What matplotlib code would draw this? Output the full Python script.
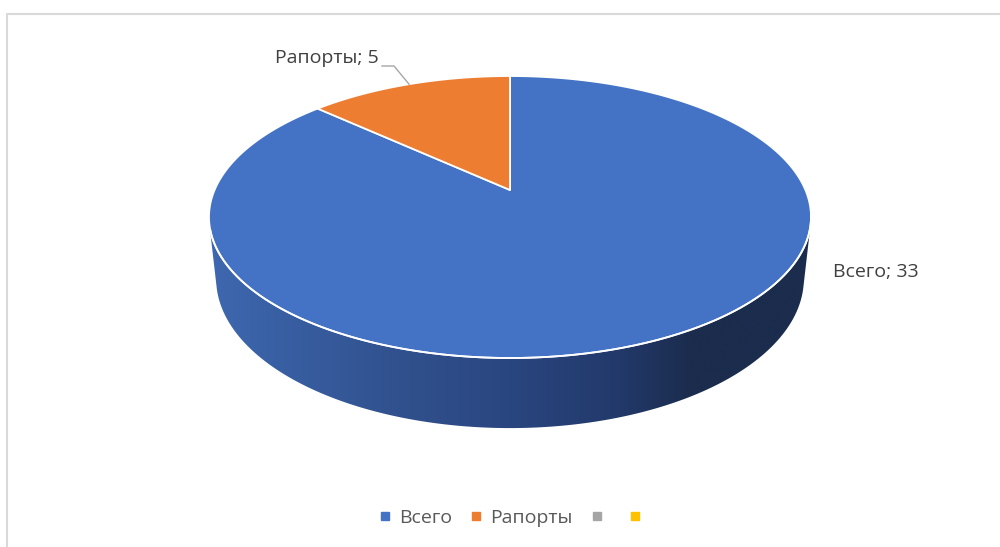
import numpy as np
import matplotlib
matplotlib.use("Agg")
import matplotlib.pyplot as plt
from matplotlib.patches import Polygon
from matplotlib.lines import Line2D
from matplotlib.colors import LinearSegmentedColormap

# Данные
categories = ["Всего", "Рапорты", "", ""]
values = [33, 5, 0, 0]
colors = ["#4472c4", "#ed7d31", "#a5a5a5", "#ffc000"]

plt.rcParams['font.family'] = ['Open Sans', 'DejaVu Sans']

W, H = 1000, 547
fig = plt.figure(figsize=(W / 100, H / 100), dpi=100)
ax = fig.add_axes([0, 0, 1, 1])
ax.set_xlim(0, W)
ax.set_ylim(H, 0)
ax.axis("off")

# рамка области диаграммы
ax.plot([6.5, 6.5, W + 5], [H + 5, 13.5, 13.5], color="#d9d9d9", lw=1.5, zorder=1)

# 3D-круг с перспективой (как в Excel): наклон, расстояние до камеры
cx, cy = 510, 190          # проекция центра
R = 0.2158                 # радиус относительно расстояния до камеры
tilt = np.arcsin(0.4597)
focal = 1369.0
h = 0.0512                 # толщина


def proj(theta, zw=0.0):
    xw = R * np.cos(theta)
    yw = R * np.sin(theta)
    v = yw * np.sin(tilt) + zw * np.cos(tilt)
    z = 1 + yw * np.cos(tilt) - zw * np.sin(tilt)
    return cx + focal * xw / z, cy - focal * v / z


def hull(pts):
    # выпуклая оболочка (monotone chain)
    pts = sorted(map(tuple, pts))

    def half(seq):
        out = []
        for p in seq:
            while len(out) >= 2 and ((out[-1][0] - out[-2][0]) * (p[1] - out[-2][1])
                                     - (out[-1][1] - out[-2][1]) * (p[0] - out[-2][0])) <= 0:
                out.pop()
            out.append(p)
        return out

    lower = half(pts)
    upper = half(pts[::-1])
    return np.array(lower[:-1] + upper[:-1])


# углы секторов: старт с 12 часов, по часовой стрелке
total = sum(values)
start = np.pi / 2
bounds = []
for v in values:
    span = 2 * np.pi * v / total
    bounds.append((start - span, start))
    start -= span

# боковая стенка: выпуклая оболочка верхнего и нижнего контуров + градиент
ta = np.linspace(0, 2 * np.pi, 720)
top = np.column_stack(proj(ta))
bot = np.column_stack(proj(ta, -h))
body = Polygon(hull(np.vstack([top, bot])), closed=True, facecolor="none",
               edgecolor="none")
ax.add_patch(body)
side_cmap = LinearSegmentedColormap.from_list(
    "side", [(0.0, "#3e68b0"), (0.3, "#31528f"), (0.5, "#2a4680"),
             (0.68, "#22396a"), (0.8, "#1b2c4d"), (1.0, "#1b2c4d")])
grad = np.linspace(0, 1, 512).reshape(1, -1)
x0, x1 = top[:, 0].min() - 2, top[:, 0].max() + 2
im = ax.imshow(grad, cmap=side_cmap, aspect="auto",
               extent=[x0, x1, bot[:, 1].max() + 2, top[:, 1].min() - 2], zorder=2)
im.set_clip_path(body)

# верхняя поверхность
for (a0, a1), c, v in zip(bounds, colors, values):
    if v == 0:
        continue
    tw = np.linspace(a0, a1, 300)
    px, py = proj(tw)
    verts = np.vstack([[cx, cy], np.column_stack([px, py]), [cx, cy]])
    ax.add_patch(Polygon(verts, closed=True, facecolor=c, edgecolor="white",
                         lw=1.3, joinstyle="round", zorder=3))

# белая кромка по переднему краю
te = np.linspace(np.radians(196), np.radians(350), 300)
ex, ey = proj(te)
ax.plot(ex, ey, color="white", lw=1.3, zorder=4)

# подписи данных
mid = np.mean(bounds[1])
lx, ly = proj(mid)
ax.plot([382, 394, lx], [66, 66, ly], color="#a6a6a6", lw=1, zorder=5)
ax.text(379, 58, f"{categories[1]}; {values[1]}", ha="right", va="center",
        fontsize=14, color="#404040", zorder=5)
ax.text(833, 272, f"{categories[0]}; {values[0]}", ha="left", va="center",
        fontsize=14, color="#404040", zorder=5)

# легенда
handles = [Line2D([], [], marker="s", ls="none", markersize=6,
                  markerfacecolor=c, markeredgecolor=c) for c in colors]
fig.legend(handles, categories, loc="center", bbox_to_anchor=(0.513, 1 - 518 / H),
           ncol=4, frameon=False, fontsize=14, labelcolor="#595959",
           handletextpad=0.3, columnspacing=0.85, handlelength=0.8)

fig.savefig("out.png", dpi=100)
